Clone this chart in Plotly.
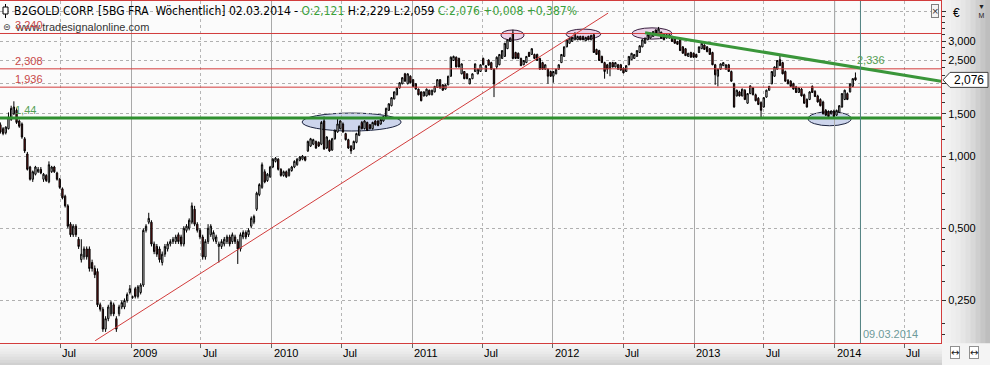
import math
import pandas as pd
import plotly.graph_objects as go

# ---------------- data (weekly candles) ----------------
opens = [
    1.35, 1.30, 1.25, 1.30, 1.42, 1.50, 1.55, 1.40, 1.36, 1.18,
    1.02, 0.90, 0.80, 0.84, 0.86, 0.88, 0.80, 0.83, 0.78, 0.86,
    0.90, 0.85, 0.80, 0.73, 0.68, 0.62, 0.52, 0.47, 0.51, 0.45,
    0.37, 0.38, 0.41, 0.41, 0.36, 0.34, 0.33, 0.24, 0.23, 0.19,
    0.21, 0.22, 0.24, 0.21, 0.22, 0.235, 0.235, 0.25, 0.27, 0.259,
    0.28, 0.26, 0.27, 0.29, 0.49, 0.53, 0.53, 0.43, 0.42, 0.41,
    0.36, 0.39, 0.41, 0.43, 0.44, 0.44, 0.47, 0.46, 0.43, 0.49,
    0.50, 0.53, 0.60, 0.52, 0.49, 0.46, 0.38, 0.44, 0.47, 0.45,
    0.44, 0.42, 0.42, 0.43, 0.44, 0.46, 0.44, 0.46, 0.44, 0.41,
    0.46, 0.48, 0.47, 0.51, 0.53, 0.60, 0.69, 0.74, 0.86, 0.79,
    0.82, 0.90, 0.95, 0.97, 0.88, 0.83, 0.86, 0.83, 0.87, 0.90,
    0.92, 0.96, 0.97, 0.99, 1.05, 1.10, 1.12, 1.15, 1.14, 1.12,
    1.40, 1.08, 1.16, 1.06, 1.18, 1.26, 1.30, 1.36, 1.24, 1.17,
    1.10, 1.07, 1.14, 1.22, 1.38, 1.30, 1.38, 1.35, 1.30, 1.40,
    1.40, 1.36, 1.40, 1.45, 1.55, 1.62, 1.73, 1.80, 1.92, 2.00,
    2.20, 2.00, 2.15, 2.08, 2.00, 1.90, 1.85, 1.78, 1.78, 1.88,
    1.80, 1.85, 1.93, 2.08, 1.98, 1.90, 1.98, 2.15, 2.50, 2.58,
    2.55, 2.20, 2.25, 2.20, 2.00, 2.10, 2.25, 2.20, 2.25, 2.55,
    2.25, 2.51, 2.45, 2.30, 2.35, 2.40, 2.55, 2.60, 2.80, 3.00,
    3.25, 2.70, 2.68, 2.55, 2.40, 2.45, 2.70, 2.65, 2.65, 2.65,
    2.55, 2.45, 2.30, 2.30, 2.25, 2.15, 2.20, 2.30, 2.45, 2.60,
    2.85, 2.95, 3.00, 3.05, 3.05, 3.15, 3.15, 3.02, 3.15,
    3.05, 3.20, 2.78, 2.75, 2.60, 2.45, 2.40, 2.32, 2.45, 2.35,
    2.40, 2.40, 2.32, 2.25, 2.40, 2.52, 2.55, 2.60, 2.70, 2.85,
    2.95, 3.05, 3.10, 3.15, 3.35, 3.20, 3.28, 3.22, 3.20, 3.10,
    3.15, 3.10, 3.00, 3.05, 2.85, 2.80, 2.60, 2.70, 2.68, 2.65,
    2.70, 2.80, 2.90, 2.85, 2.80, 2.70, 2.40, 2.15, 2.30, 2.38,
    2.30, 2.40, 2.25, 2.00, 1.78, 1.85, 1.78, 1.88, 1.66, 1.82,
    1.92, 1.80, 1.74, 1.67, 1.60, 1.76, 1.88, 2.00, 2.15, 2.30,
    2.52, 2.45, 2.25, 2.07, 2.05, 2.00, 1.94, 1.84, 1.90, 1.80,
    1.72, 1.72, 1.95, 1.86, 1.78, 1.72, 1.68, 1.55, 1.53,
    1.50, 1.54, 1.48, 1.52, 1.60, 1.72, 1.82, 1.85, 1.95, 2.121,
]
highs = [
    1.38, 1.32, 1.33, 1.52, 1.62, 1.69, 1.58, 1.42, 1.38, 1.20,
    1.04, 0.91, 0.87, 0.91, 0.90, 0.90, 0.85, 0.84, 0.95, 0.91,
    0.91, 0.86, 0.81, 0.74, 0.69, 0.63, 0.53, 0.52, 0.52, 0.46,
    0.45, 0.42, 0.42, 0.42, 0.37, 0.35, 0.34, 0.245, 0.235, 0.215,
    0.24, 0.25, 0.245, 0.215, 0.24, 0.25, 0.255, 0.27, 0.29, 0.262,
    0.285, 0.29, 0.295, 0.50, 0.52, 0.58, 0.54, 0.44, 0.43, 0.42,
    0.40, 0.43, 0.44, 0.45, 0.46, 0.47, 0.48, 0.47, 0.51, 0.52,
    0.55, 0.64, 0.62, 0.53, 0.50, 0.47, 0.45, 0.52, 0.52, 0.49,
    0.47, 0.44, 0.45, 0.46, 0.47, 0.47, 0.48, 0.47, 0.45, 0.48,
    0.49, 0.49, 0.50, 0.56, 0.57, 0.71, 0.77, 0.94, 0.88, 0.85,
    0.91, 0.98, 0.99, 0.98, 0.89, 0.87, 0.87, 0.89, 0.91, 0.96,
    0.98, 1.00, 1.01, 1.00, 1.16, 1.19, 1.18, 1.16, 1.15, 1.40,
    1.46, 1.21, 1.17, 1.19, 1.29, 1.45, 1.41, 1.38, 1.25, 1.18,
    1.11, 1.16, 1.25, 1.34, 1.40, 1.41, 1.39, 1.36, 1.39, 1.41,
    1.41, 1.43, 1.47, 1.59, 1.66, 1.76, 1.86, 1.93, 2.03, 2.13,
    2.22, 2.21, 2.17, 2.09, 2.01, 1.91, 1.86, 1.86, 1.91, 1.89,
    1.89, 1.96, 2.09, 2.09, 1.99, 1.99, 2.16, 2.60, 2.62, 2.60,
    2.57, 2.43, 2.26, 2.21, 2.11, 2.21, 2.43, 2.31, 2.41, 2.57,
    2.39, 2.53, 2.47, 2.32, 2.60, 2.66, 2.76, 2.96, 3.06, 3.12,
    3.36, 2.72, 2.70, 2.57, 2.51, 2.61, 2.72, 2.81, 2.67, 2.67,
    2.57, 2.47, 2.41, 2.32, 2.27, 2.26, 2.31, 2.41, 2.66, 2.86,
    3.06, 3.11, 3.14, 3.27, 3.17, 3.17, 3.17, 3.14, 3.17,
    3.20, 3.22, 2.80, 2.77, 2.62, 2.47, 2.42, 2.46, 2.47, 2.46,
    2.42, 2.42, 2.34, 2.39, 2.61, 2.69, 2.66, 2.76, 2.89, 3.06,
    3.11, 3.21, 3.26, 3.31, 3.37, 3.45, 3.30, 3.24, 3.22, 3.21,
    3.17, 3.12, 3.02, 3.07, 2.87, 2.82, 2.69, 2.72, 2.70, 2.67,
    2.86, 2.96, 2.92, 2.87, 2.82, 2.72, 2.42, 2.31, 2.43, 2.46,
    2.41, 2.42, 2.27, 2.02, 1.89, 1.87, 1.91, 1.90, 1.83, 1.97,
    1.94, 1.82, 1.76, 1.69, 1.76, 1.89, 1.96, 2.26, 2.36, 2.51,
    2.62, 2.47, 2.27, 2.09, 2.07, 2.02, 1.96, 1.93, 1.92, 1.82,
    1.74, 1.86, 1.97, 1.88, 1.80, 1.74, 1.70, 1.57, 1.55,
    1.55, 1.56, 1.56, 1.63, 1.83, 1.89, 1.84, 2.01, 2.11, 2.229,
]
lows = [
    1.24, 1.22, 1.23, 1.29, 1.40, 1.48, 1.36, 1.31, 1.18, 1.03,
    0.87, 0.79, 0.78, 0.83, 0.85, 0.84, 0.78, 0.78, 0.77, 0.85,
    0.85, 0.79, 0.73, 0.66, 0.61, 0.50, 0.46, 0.46, 0.46, 0.41,
    0.36, 0.37, 0.37, 0.33, 0.33, 0.31, 0.235, 0.225, 0.185, 0.185,
    0.205, 0.215, 0.215, 0.185, 0.215, 0.23, 0.23, 0.245, 0.265, 0.254,
    0.255, 0.255, 0.265, 0.285, 0.48, 0.52, 0.42, 0.39, 0.38, 0.36,
    0.35, 0.38, 0.40, 0.42, 0.43, 0.43, 0.43, 0.42, 0.42, 0.48,
    0.49, 0.52, 0.51, 0.48, 0.45, 0.37, 0.37, 0.43, 0.46, 0.44,
    0.43, 0.36, 0.41, 0.42, 0.43, 0.42, 0.43, 0.43, 0.355, 0.40,
    0.45, 0.45, 0.46, 0.50, 0.52, 0.59, 0.68, 0.73, 0.77, 0.78,
    0.81, 0.89, 0.94, 0.87, 0.82, 0.82, 0.81, 0.82, 0.86, 0.89,
    0.91, 0.95, 0.96, 0.95, 1.04, 1.09, 1.11, 1.07, 1.09, 1.11,
    1.06, 1.07, 1.04, 1.05, 1.17, 1.25, 1.29, 1.25, 1.16, 1.07,
    1.02, 1.06, 1.13, 1.21, 1.29, 1.29, 1.27, 1.29, 1.29, 1.34,
    1.33, 1.35, 1.39, 1.44, 1.54, 1.61, 1.72, 1.79, 1.91, 1.99,
    2.04, 1.99, 2.01, 1.94, 1.89, 1.79, 1.69, 1.77, 1.77, 1.79,
    1.79, 1.84, 1.92, 1.91, 1.87, 1.89, 1.97, 2.14, 2.49, 2.34,
    2.34, 2.19, 2.09, 2.09, 1.99, 2.09, 2.24, 2.19, 2.24, 2.39,
    2.24, 2.38, 2.29, 1.76, 2.30, 2.39, 2.54, 2.59, 2.79, 2.99,
    2.53, 2.54, 2.54, 2.37, 2.39, 2.44, 2.59, 2.64, 2.54, 2.49,
    2.29, 2.29, 2.29, 2.00, 2.14, 2.02, 2.19, 2.29, 2.44, 2.59,
    2.84, 2.94, 2.99, 3.04, 3.04, 3.04, 3.04, 3.01, 3.04,
    3.04, 2.69, 2.64, 2.49, 2.44, 2.10, 2.20, 2.15, 2.34, 2.34,
    2.29, 2.27, 2.21, 2.24, 2.39, 2.51, 2.54, 2.59, 2.69, 2.84,
    2.94, 3.04, 3.09, 3.14, 3.19, 3.19, 3.09, 3.04, 3.09, 3.09,
    2.99, 2.94, 2.91, 2.74, 2.67, 2.61, 2.59, 2.57, 2.57, 2.57,
    2.69, 2.79, 2.77, 2.71, 2.64, 2.39, 1.98, 1.95, 2.29, 2.37,
    2.29, 2.24, 2.04, 1.59, 1.77, 1.77, 1.77, 1.71, 1.65, 1.81,
    1.79, 1.69, 1.63, 1.44, 1.59, 1.75, 1.87, 1.99, 2.14, 2.29,
    2.37, 2.19, 2.04, 1.99, 1.94, 1.89, 1.83, 1.83, 1.77, 1.65,
    1.59, 1.71, 1.83, 1.76, 1.67, 1.61, 1.49, 1.47, 1.45,
    1.49, 1.45, 1.47, 1.51, 1.59, 1.71, 1.71, 1.84, 1.94, 2.059,
]
closes = [
    1.26, 1.24, 1.32, 1.45, 1.58, 1.60, 1.38, 1.33, 1.20, 1.05,
    0.88, 0.80, 0.86, 0.90, 0.88, 0.85, 0.84, 0.79, 0.92, 0.90,
    0.86, 0.80, 0.74, 0.67, 0.62, 0.51, 0.47, 0.51, 0.47, 0.42,
    0.39, 0.41, 0.38, 0.34, 0.34, 0.32, 0.24, 0.23, 0.19, 0.21,
    0.235, 0.245, 0.22, 0.19, 0.235, 0.245, 0.25, 0.265, 0.28, 0.258,
    0.26, 0.285, 0.29, 0.49, 0.51, 0.55, 0.43, 0.40, 0.39, 0.37,
    0.39, 0.42, 0.43, 0.44, 0.45, 0.46, 0.44, 0.43, 0.50, 0.51,
    0.54, 0.62, 0.52, 0.49, 0.46, 0.38, 0.44, 0.50, 0.51, 0.48,
    0.46, 0.43, 0.44, 0.45, 0.46, 0.43, 0.47, 0.44, 0.41, 0.47,
    0.48, 0.46, 0.49, 0.55, 0.56, 0.70, 0.76, 0.92, 0.78, 0.84,
    0.90, 0.97, 0.98, 0.88, 0.83, 0.86, 0.82, 0.88, 0.90, 0.95,
    0.97, 0.99, 1.00, 0.96, 1.15, 1.18, 1.17, 1.08, 1.10, 1.38,
    1.07, 1.20, 1.05, 1.18, 1.28, 1.36, 1.40, 1.26, 1.17, 1.08,
    1.05, 1.15, 1.24, 1.33, 1.30, 1.40, 1.28, 1.30, 1.38, 1.35,
    1.34, 1.42, 1.46, 1.58, 1.65, 1.75, 1.85, 1.92, 2.02, 2.12,
    2.05, 2.20, 2.02, 1.95, 1.90, 1.80, 1.70, 1.85, 1.90, 1.80,
    1.88, 1.95, 2.08, 1.92, 1.88, 1.98, 2.15, 2.58, 2.60, 2.35,
    2.35, 2.42, 2.10, 2.10, 2.10, 2.20, 2.42, 2.30, 2.40, 2.40,
    2.38, 2.39, 2.30, 2.00, 2.58, 2.65, 2.75, 2.95, 3.05, 3.10,
    2.55, 2.55, 2.55, 2.38, 2.50, 2.60, 2.60, 2.80, 2.55, 2.50,
    2.30, 2.30, 2.40, 2.15, 2.15, 2.25, 2.30, 2.40, 2.65, 2.85,
    3.05, 3.10, 3.12, 3.25, 3.15, 3.05, 3.05, 3.12, 3.05,
    3.18, 2.70, 2.65, 2.50, 2.45, 2.25, 2.30, 2.45, 2.35, 2.45,
    2.30, 2.28, 2.22, 2.38, 2.60, 2.68, 2.65, 2.75, 2.88, 3.05,
    3.10, 3.20, 3.25, 3.30, 3.20, 3.38, 3.10, 3.05, 3.10, 3.20,
    3.00, 2.95, 2.92, 2.75, 2.68, 2.62, 2.68, 2.58, 2.58, 2.58,
    2.85, 2.95, 2.78, 2.72, 2.65, 2.40, 2.18, 2.30, 2.42, 2.45,
    2.40, 2.25, 2.05, 1.60, 1.88, 1.78, 1.90, 1.72, 1.82, 1.96,
    1.80, 1.70, 1.64, 1.55, 1.75, 1.88, 1.95, 2.25, 2.35, 2.50,
    2.38, 2.20, 2.05, 2.00, 1.95, 1.90, 1.84, 1.92, 1.78, 1.66,
    1.60, 1.85, 1.84, 1.77, 1.68, 1.62, 1.50, 1.48, 1.46,
    1.54, 1.46, 1.55, 1.62, 1.82, 1.88, 1.72, 2.00, 2.10, 2.076,
]
first_week = "2008-01-28"
dates = pd.date_range(first_week, periods=len(closes), freq="7D")

red_levels = [3.24, 2.308, 1.936]
red_level_texts = ["3,240", "2,308", "1,936"]
green_level = 1.44
green_level_text = "1,44"

red_trend_x = ["2008-09-30", "2012-05-23"]
red_trend_y = [0.170, 3.94]
green_trend_x = ["2012-08-27", "2014-10-04"]
green_trend_y = [3.265, 2.05]
green_trend_value = 2.336
green_trend_text = "2,336"

marker_date = "2014-03-09"
marker_text = "09.03.2014"
last_price = 2.076
last_price_text = "2,076"

blue_ell_x = [("2010-03-21", "2010-12-03"), ("2013-10-24", "2014-02-13")]
blue_ell_y = [(1.271, 1.51), (1.337, 1.53)]
pink_ell_x = [("2011-08-19", "2011-10-18"), ("2012-02-04", "2012-05-04"), ("2012-07-24", "2012-11-05")]
pink_ell_y = [(3.04, 3.35), (3.07, 3.38), (3.07, 3.42)]

year_ticks = ["2009-01-01", "2010-01-01", "2011-01-01", "2012-01-01", "2013-01-01", "2014-01-01"]
year_labels = ["2009", "2010", "2011", "2012", "2013", "2014"]
jul_ticks = ["2008-07-01", "2009-07-01", "2010-07-01", "2011-07-01", "2012-07-01", "2013-07-01", "2014-07-01"]
jul_labels = ["Jul"] * 7

y_tickvals = [0.25, 0.5, 1.0, 1.5, 2.0, 2.5, 3.0, 4.0]
y_ticktext = ["0,250", "0,500", "1,000", "1,500", "", "2,500", "3,000", ""]
y_minorvals = [0.18, 0.2, 0.3, 0.35, 0.4, 0.45, 0.6, 0.7, 0.8, 0.9, 1.17, 1.33,
               1.67, 1.83, 2.17, 2.33, 2.67, 2.83, 3.2, 3.4, 3.6, 3.8]

header_main = "B2GOLD CORP. [5BG FRA\u00a0\u00a0Wöchentlich] 02.03.2014 - "
header_open = "O:2,121"
header_mid = " H:2,229 L:2,059 "
header_close = "C:2,076 +0,008 +0,387%"
watermark = "www.tradesignalonline.com"

x_range = ["2008-01-27", "2014-10-04"]
y_range_prices = [0.1663, 4.425]

# ---------------- figure ----------------
W, H = 990, 365
ML, MR, MT, MB = 0, 49, 1, 22
PW, PH = W - ML - MR, H - MT - MB
FONT = "Liberation Sans, Arial, sans-serif"
NARROW = "Liberation Sans Narrow, Arial Narrow, DejaVu Sans Condensed, Liberation Sans, sans-serif"
RED = "#d23c3c"
GREEN = "#2f8f2f"

def px_x(p):
    return p / PW

def px_y(p):
    return (MT + PH - p) / PH

ylo, yhi = math.log10(y_range_prices[0]), math.log10(y_range_prices[1])

fig = go.Figure()
fig.add_trace(go.Candlestick(
    x=dates, open=opens, high=highs, low=lows, close=closes,
    increasing=dict(fillcolor="#ffffff", line=dict(color="#000000", width=1)),
    decreasing=dict(fillcolor="#8a1c1c", line=dict(color="#000000", width=1)),
    whiskerwidth=0, showlegend=False, hoverinfo="skip"))

for lv in red_levels:
    fig.add_trace(go.Scatter(x=x_range, y=[lv, lv], mode="lines",
                             line=dict(color=RED, width=1), showlegend=False, hoverinfo="skip"))
fig.add_trace(go.Scatter(x=x_range, y=[green_level, green_level], mode="lines",
                         line=dict(color=GREEN, width=3), showlegend=False, hoverinfo="skip"))
fig.add_trace(go.Scatter(x=red_trend_x, y=red_trend_y, mode="lines",
                         line=dict(color=RED, width=1), showlegend=False, hoverinfo="skip"))
fig.add_trace(go.Scatter(x=green_trend_x, y=green_trend_y, mode="lines",
                         line=dict(color="#3a963a", width=3), showlegend=False, hoverinfo="skip"))

shapes = []
for (xa, xb), (ya, yb) in zip(blue_ell_x, blue_ell_y):
    shapes.append(dict(type="circle", xref="x", yref="y", x0=xa, x1=xb, y0=ya, y1=yb,
                       fillcolor="#cdd5ec", line=dict(color="#1c2440", width=1), layer="below"))
for (xa, xb), (ya, yb) in zip(pink_ell_x, pink_ell_y):
    shapes.append(dict(type="circle", xref="x", yref="y", x0=xa, x1=xb, y0=ya, y1=yb,
                       fillcolor="#e9d3e8", line=dict(color="#3a2040", width=1), layer="below"))
shapes.append(dict(type="line", xref="x", yref="paper", x0=year_ticks[-1], x1=year_ticks[-1],
                   y0=0, y1=1, line=dict(color="#7ea3a3", width=1), layer="below"))
shapes.append(dict(type="line", xref="x", yref="paper", x0=marker_date, x1=marker_date,
                   y0=0, y1=1, line=dict(color="#4f8080", width=1), layer="above"))

panel_cols = ["#f3f3f3", "#f1f1f1", "#eeeeee", "#ebebeb", "#e6e6e6", "#e0e0e0", "#d8d8d8", "#cfcfcf", "#c6c6c6", "#bebebe"]
n = len(panel_cols)
for k, c in enumerate(panel_cols):
    x0 = 1 + (MR / PW) * k / n
    x1 = 1 + (MR / PW) * (k + 1) / n + 0.0005
    shapes.append(dict(type="rect", xref="paper", yref="paper", x0=x0, x1=x1,
                       y0=-MB / PH, y1=1 + MT / PH + 0.01, fillcolor=c, line=dict(width=0), layer="below"))
strip_cols = ["#f6f6f6", "#f2f2f2", "#eeeeee", "#eaeaea", "#e5e5e5", "#dfdfdf", "#d8d8d8", "#d0d0d0"]
n = len(strip_cols)
for k, c in enumerate(strip_cols):
    y1 = -(MB / PH) * k / n
    y0 = -(MB / PH) * (k + 1) / n - 0.0005
    shapes.append(dict(type="rect", xref="paper", yref="paper", x0=0, x1=(PW + 6) / PW,
                       y0=y0, y1=y1, fillcolor=c, line=dict(width=0), layer="below"))
shapes.append(dict(type="rect", xref="paper", yref="paper", x0=(PW + 1) / PW, x1=W / PW,
                   y0=-MB / PH, y1=-0.0005, fillcolor="#f4f4f4", line=dict(width=0), layer="below"))

yc = (math.log10(last_price) - ylo) / (yhi - ylo)
hh = 7.5 / PH
tip, bl, br = px_x(PW + 2), px_x(PW + 9), px_x(PW + 47)
shapes.append(dict(type="path", xref="paper", yref="paper",
                   path=f"M {tip},{yc} L {bl},{yc + hh} L {br},{yc + hh} L {br},{yc - hh} L {bl},{yc - hh} Z",
                   fillcolor="#ffffff", line=dict(color="#404040", width=1), layer="above"))

shapes.append(dict(type="line", xref="paper", yref="paper", x0=px_x(5.5), x1=px_x(5.5),
                   y0=px_y(4), y1=px_y(18), line=dict(color="#000", width=1)))
shapes.append(dict(type="rect", xref="paper", yref="paper", x0=px_x(3), x1=px_x(8),
                   y0=px_y(7), y1=px_y(14), fillcolor="#ffffff", line=dict(color="#000", width=1)))

annotations = []
annotations.append(dict(
    xref="paper", yref="paper", x=px_x(12), y=px_y(2), xanchor="left", yanchor="top",
    text=header_main + f"<span style='color:#3aa03a'>{header_open}</span>" + header_mid
         + f"<span style='color:#3aa03a'>{header_close}</span>",
    showarrow=False, font=dict(family=NARROW, size=12, color="#000")))
annotations.append(dict(xref="paper", yref="paper", x=px_x(13), y=px_y(27), xanchor="left", yanchor="middle",
                        text=watermark, showarrow=False, font=dict(family=FONT, size=11, color="#333")))
annotations.append(dict(xref="paper", yref="paper", x=px_x(1), y=px_y(27), xanchor="left", yanchor="middle",
                        text="⊜", showarrow=False, font=dict(family="DejaVu Sans", size=9, color="#333")))
for lv, t in zip(red_levels, red_level_texts):
    annotations.append(dict(xref="paper", yref="y", x=px_x(13), y=math.log10(lv), xanchor="left",
                            yanchor="bottom", yshift=0, text=t, showarrow=False,
                            font=dict(family=FONT, size=11, color="#c84848")))
annotations.append(dict(xref="paper", yref="y", x=px_x(13), y=math.log10(green_level), xanchor="left",
                        yanchor="bottom", yshift=0, text=green_level_text, showarrow=False,
                        font=dict(family=FONT, size=11, color="#55a055")))
annotations.append(dict(xref="x", yref="y", x=marker_date, y=math.log10(green_trend_value), xanchor="left",
                        yanchor="bottom", xshift=-5, yshift=0, text=green_trend_text, showarrow=False,
                        font=dict(family=FONT, size=11, color="#55a055")))
annotations.append(dict(xref="x", yref="paper", x=marker_date, y=0, xanchor="left", yanchor="bottom",
                        xshift=1, yshift=1, text=marker_text, showarrow=False,
                        font=dict(family=FONT, size=11, color="#6e9a9a")))
for d, t in list(zip(year_ticks, year_labels)) + list(zip(jul_ticks, jul_labels)):
    annotations.append(dict(xref="x", yref="paper", x=d, y=0, xanchor="left", yanchor="top",
                            xshift=0, yshift=-2, text=t, showarrow=False,
                            font=dict(family=FONT, size=11, color="#000")))
annotations.append(dict(xref="paper", yref="paper", x=px_x(PW + 28), y=yc, xanchor="center", yanchor="middle",
                        text=last_price_text, showarrow=False, font=dict(family=FONT, size=12, color="#000")))
annotations.append(dict(xref="paper", yref="paper", x=px_x(PW + 10), y=px_y(13), xanchor="left", yanchor="middle",
                        text="€", showarrow=False, font=dict(family=FONT, size=12, color="#000")))
annotations.append(dict(xref="paper", yref="paper", x=px_x(PW - 6), y=px_y(11), xanchor="center", yanchor="middle",
                        text="×", showarrow=False, bordercolor="#808080", borderwidth=1, borderpad=0,
                        bgcolor="#f4f4f4", font=dict(family=FONT, size=11, color="#333")))
annotations.append(dict(xref="paper", yref="paper", x=px_x(PW + 40), y=px_y(11), xanchor="center", yanchor="middle",
                        text="▼<br>M", showarrow=False, font=dict(family=FONT, size=7, color="#222")))
for xx in (PW + 14, PW + 33):
    annotations.append(dict(xref="paper", yref="paper", x=px_x(xx), y=px_y(352), xanchor="center", yanchor="middle",
                            text="↔", showarrow=False, bordercolor="#909090", borderwidth=1, borderpad=0,
                            bgcolor="#ffffff", font=dict(family="DejaVu Sans", size=10, color="#222")))

fig.update_layout(
    width=W, height=H, margin=dict(l=ML, r=MR, t=MT, b=MB),
    paper_bgcolor="#f4f4f4", plot_bgcolor="#fbfbfb",
    showlegend=False, shapes=shapes, annotations=annotations,
    font=dict(family=FONT, size=11, color="#000"),
    xaxis=dict(type="date", range=x_range, rangeslider=dict(visible=False),
               tickmode="array", tickvals=year_ticks, showticklabels=False,
               ticks="outside", ticklen=4, tickcolor="#666",
               showgrid=True, gridcolor="#a9a9a9", gridwidth=1,
               minor=dict(tickmode="array", tickvals=jul_ticks, showgrid=True, griddash="dot",
                          gridcolor="#b5b5b5", ticks="outside", ticklen=4, tickcolor="#666"),
               showline=True, linecolor=RED, linewidth=1, mirror=True, zeroline=False, fixedrange=True),
    yaxis=dict(type="log", side="right", range=[ylo, yhi],
               tickmode="array", tickvals=y_tickvals, ticktext=y_ticktext,
               ticks="outside", ticklen=4, tickcolor="#333", tickfont=dict(family=FONT, size=11, color="#000"),
               showgrid=True, gridcolor="#b0b0b0", griddash="dot",
               minor=dict(tickmode="array", tickvals=y_minorvals, ticks="outside", ticklen=3,
                          tickcolor="#333", showgrid=False),
               showline=True, linecolor=RED, linewidth=1, mirror=True, zeroline=False, fixedrange=True),
)

fig.write_html("out.html")
